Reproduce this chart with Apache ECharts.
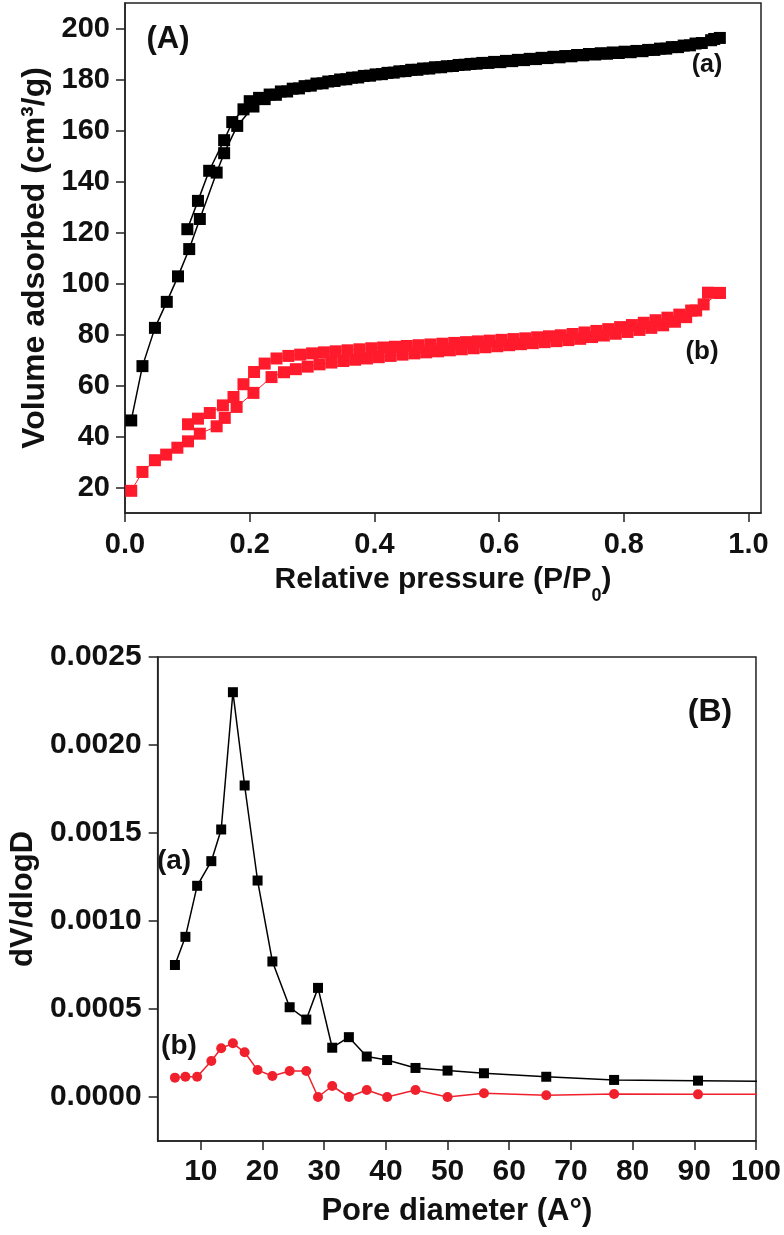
<!DOCTYPE html>
<html>
<head>
<meta charset="utf-8">
<script src="https://cdn.jsdelivr.net/npm/echarts@6/dist/echarts.min.js"></script>
<style>
html,body{margin:0;padding:0;background:#fff;}
#chart{width:784px;height:1235px;}
</style>
</head>
<body>
<div id="chart"></div>
<script>
// ---------- Panel A: N2 isotherms ----------
const blackAdsX = [0.010,0.028,0.048,0.067,0.085,0.103,0.120,0.147,0.159,0.180,0.206,0.224,0.242,0.260,0.279,0.298,0.317,0.336,0.355,0.374,0.393,0.412,0.431,0.450,0.469,0.488,0.507,0.526,0.545,0.564,0.583,0.602,0.621,0.640,0.659,0.678,0.697,0.716,0.735,0.754,0.773,0.792,0.811,0.830,0.849,0.868,0.887,0.906,0.925,0.940,0.954];
const blackAdsY = [46.3,67.6,82.6,92.8,102.8,113.5,125.3,143.5,151.1,161.8,169.4,172.3,174.0,175.3,176.5,177.6,178.5,179.4,180.1,180.8,181.5,182.1,182.7,183.3,183.8,184.3,184.8,185.3,185.8,186.2,186.5,186.8,187.2,187.6,188.0,188.4,188.7,189.1,189.5,189.8,190.1,190.4,190.7,191.1,191.6,192.1,192.7,193.4,194.3,195.4,196.3];
const blackDesX = [0.945,0.915,0.896,0.877,0.858,0.839,0.820,0.801,0.782,0.763,0.744,0.725,0.706,0.687,0.668,0.649,0.630,0.611,0.592,0.573,0.554,0.535,0.516,0.497,0.478,0.459,0.440,0.421,0.402,0.383,0.364,0.345,0.326,0.307,0.288,0.269,0.250,0.232,0.215,0.200,0.190,0.172,0.159,0.135,0.117,0.100];
const blackDesY = [195.9,194.1,193.3,192.7,192.1,191.6,191.2,190.9,190.6,190.3,190.0,189.6,189.2,188.9,188.5,188.1,187.7,187.3,186.9,186.5,186.1,185.7,185.2,184.8,184.3,183.8,183.2,182.6,182.0,181.4,180.7,180.0,179.2,178.4,177.4,176.4,175.3,174.1,172.8,171.5,168.3,163.3,156.2,144.2,132.4,121.3];
const redAdsX = [0.010,0.028,0.048,0.066,0.084,0.101,0.120,0.147,0.160,0.179,0.206,0.235,0.255,0.274,0.293,0.312,0.331,0.350,0.369,0.388,0.407,0.426,0.445,0.464,0.483,0.502,0.521,0.540,0.559,0.578,0.597,0.616,0.635,0.654,0.673,0.692,0.711,0.730,0.749,0.768,0.787,0.806,0.825,0.844,0.863,0.882,0.900,0.916,0.935,0.954];
const redAdsY = [18.7,26.1,30.7,32.9,35.6,38.1,41.1,44.0,47.3,51.6,57.1,63.3,65.2,66.4,67.4,68.3,69.0,69.6,70.1,70.6,71.1,71.6,72.1,72.6,73.0,73.4,73.8,74.2,74.6,75.0,75.4,75.8,76.2,76.6,77.0,77.4,77.8,78.3,79.0,79.6,80.3,81.0,81.8,82.6,83.6,85.0,86.8,89.4,96.4,96.3];
const redDesX = [0.954,0.928,0.908,0.889,0.870,0.851,0.832,0.813,0.794,0.775,0.756,0.737,0.718,0.699,0.680,0.661,0.642,0.623,0.604,0.585,0.566,0.547,0.528,0.509,0.490,0.471,0.452,0.433,0.414,0.395,0.376,0.357,0.338,0.319,0.300,0.281,0.262,0.243,0.224,0.207,0.190,0.174,0.157,0.136,0.117,0.101];
const redDesY = [96.3,91.8,89.4,87.8,86.6,85.6,84.6,83.7,82.9,82.1,81.4,80.8,80.2,79.7,79.3,78.9,78.5,78.2,77.9,77.6,77.3,77.0,76.7,76.4,76.1,75.8,75.5,75.2,74.9,74.6,74.2,73.8,73.4,73.0,72.6,72.1,71.6,70.6,68.6,65.3,60.5,55.5,52.2,49.2,47.0,44.8];
const ticksAX = [0, 0.2, 0.4, 0.6, 0.8, 1.0];
const ticksAY = [20, 40, 60, 80, 100, 120, 140, 160, 180, 200];

// ---------- Panel B: pore size distribution ----------
const poreX = [5.8,7.5,9.4,11.7,13.3,15.2,17.1,19.2,21.6,24.4,27.1,29.0,31.3,34.0,36.9,40.2,44.8,50.0,55.9,66.0,77.0,90.6,110];
const dvA = [0.00075,0.00091,0.00120,0.00134,0.00152,0.00230,0.00177,0.00123,0.00077,0.00051,0.00044,0.00062,0.00028,0.00034,0.00023,0.00021,0.000165,0.00015,0.000135,0.000115,0.000097,0.000093,0.000087];
const dvB = [0.00011,0.000115,0.000115,0.000205,0.000277,0.000305,0.000254,0.000153,0.000119,0.000148,0.000148,0.0,0.0000625,0.0,0.00004,0.0,0.00004,0.0,0.000021,0.00001,0.000017,0.000015,0.000015];
const ticksBX = [10, 20, 30, 40, 50, 60, 70, 80, 90, 100];
const ticksBY = [0, 0.0005, 0.0010, 0.0015, 0.0020, 0.0025];

const zip = (xs, ys) => xs.map((x, i) => [x, ys[i]]);
const FONT = 'Liberation Sans, Arial, Helvetica, sans-serif';
const INK = '#111';
const RED = '#ff1a2c';

function axisCommon(fs, margin, ticks, fmt) {
  return {
    axisLine: { show: true, onZero: false, lineStyle: { color: '#222', width: 1.5 } },
    axisTick: { show: true, inside: false, length: 9, lineStyle: { color: '#222', width: 1.5 }, customValues: ticks },
    axisLabel: { show: true, margin: margin, color: INK, fontSize: fs, fontWeight: 'bold', fontFamily: FONT, customValues: ticks, formatter: fmt },
    splitLine: { show: false },
    nameTextStyle: { color: INK, fontWeight: 'bold', fontFamily: FONT }
  };
}

const chart = echarts.init(document.getElementById('chart'), null, { renderer: 'canvas' });

const xA = Object.assign(axisCommon(29, 17, ticksAX, v => v.toFixed(1)), {
  gridIndex: 0, type: 'value', min: 0, max: 1.02,
  name: '{m|Relative pressure (P/P}{sub|0}{m|)}', nameLocation: 'middle', nameGap: 52
});
xA.nameTextStyle.fontSize = 30;
xA.nameTextStyle.rich = {
  m: { fontSize: 30, fontWeight: 'bold', fontFamily: FONT, color: INK, lineHeight: 34, verticalAlign: 'top' },
  sub: { fontSize: 18, fontWeight: 'bold', fontFamily: FONT, color: INK, lineHeight: 18, verticalAlign: 'top', padding: [22, 0, 0, 0] }
};
const yA = Object.assign(axisCommon(29, 15, ticksAY, v => String(v)), {
  gridIndex: 0, type: 'value', min: 10, max: 210,
  name: 'Volume adsorbed (cm\u00b3/g)', nameLocation: 'middle', nameGap: 70
});
yA.nameTextStyle.fontSize = 32;
const xB = Object.assign(axisCommon(30, 16, ticksBX, v => String(v)), {
  gridIndex: 1, type: 'value', min: 3, max: 100,
  name: 'Pore diameter (A\u00b0)', nameLocation: 'middle', nameGap: 55
});
xB.nameTextStyle.fontSize = 31;
const yB = Object.assign(axisCommon(30, 16, ticksBY, v => v.toFixed(4)), {
  gridIndex: 1, type: 'value', min: -0.00025, max: 0.0025,
  name: 'dV/dlogD', nameLocation: 'middle', nameGap: 114
});
yB.nameTextStyle.fontSize = 31;

function lineSeries(name, xi, yi, data, color, symbol, size, lw, z) {
  return {
    name: name, type: 'line', xAxisIndex: xi, yAxisIndex: yi, data: data,
    symbol: symbol, symbolSize: size, showSymbol: true, clip: true, z: z || 2,
    itemStyle: { color: color, borderWidth: 0 },
    lineStyle: { color: color, width: lw },
    emphasis: { disabled: true }
  };
}

const option = {
  animation: false,
  backgroundColor: '#ffffff',
  grid: [
    { left: 125, top: 3, width: 636, height: 510, show: true, borderColor: '#222', borderWidth: 1.5, backgroundColor: 'transparent' },
    { left: 153, top: 657, width: 603, height: 484, show: true, borderColor: '#222', borderWidth: 1.5, backgroundColor: 'transparent' }
  ],
  xAxis: [xA, xB],
  yAxis: [yA, yB],
  series: [
    lineSeries('(b) adsorption', 0, 0, zip(redAdsX, redAdsY), RED, 'rect', 12, 1, 2),
    lineSeries('(b) desorption', 0, 0, zip(redDesX, redDesY), RED, 'rect', 12, 1, 2),
    lineSeries('(a) adsorption', 0, 0, zip(blackAdsX, blackAdsY), '#000', 'rect', 12, 1.5, 3),
    lineSeries('(a) desorption', 0, 0, zip(blackDesX, blackDesY), '#000', 'rect', 12, 1.5, 3),
    lineSeries('(a)', 1, 1, zip(poreX, dvA), '#000', 'rect', 10, 1.5, 3),
    lineSeries('(b)', 1, 1, zip(poreX, dvB), '#f0202c', 'circle', 10, 1.5, 2)
  ],
  graphic: [
    { type: 'text', x: 168, y: 39, style: { text: '(A)', fill: INK, font: 'bold 31px ' + FONT, align: 'center', verticalAlign: 'middle' } },
    { type: 'text', x: 707, y: 65, style: { text: '(a)', fill: INK, font: 'bold 25px ' + FONT, align: 'center', verticalAlign: 'middle' } },
    { type: 'text', x: 702, y: 352, style: { text: '(b)', fill: INK, font: 'bold 26px ' + FONT, align: 'center', verticalAlign: 'middle' } },
    { type: 'text', x: 710, y: 712, style: { text: '(B)', fill: INK, font: 'bold 32px ' + FONT, align: 'center', verticalAlign: 'middle' } },
    { type: 'text', x: 174, y: 861, style: { text: '(a)', fill: INK, font: 'bold 28px ' + FONT, align: 'center', verticalAlign: 'middle' } },
    { type: 'text', x: 179, y: 1046, style: { text: '(b)', fill: INK, font: 'bold 28px ' + FONT, align: 'center', verticalAlign: 'middle' } }
  ]
};
chart.setOption(option);
</script>
</body>
</html>
